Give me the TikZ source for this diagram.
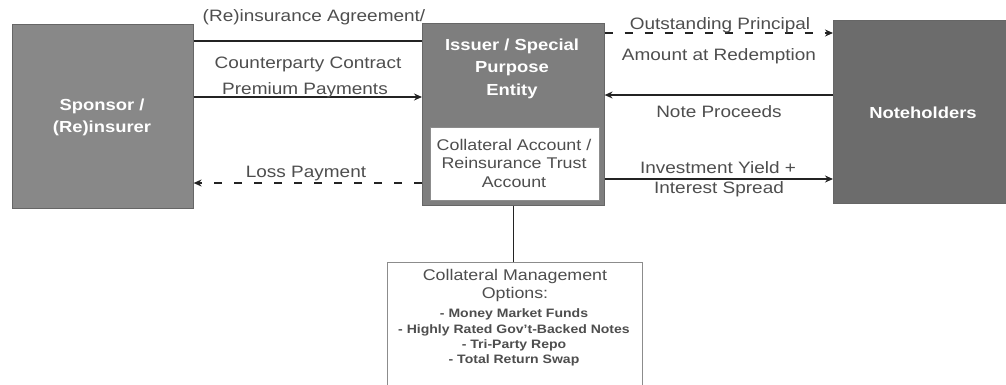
\documentclass[tikz,border=0pt]{standalone}
\usepackage{fontspec}
\setmainfont{Liberation Sans}[FakeStretch=1.15]
\usetikzlibrary{arrows.meta}

\definecolor{sponsorgray}{RGB}{136,136,136}
\definecolor{issuergray}{RGB}{126,126,126}
\definecolor{holdergray}{RGB}{108,108,108}
\definecolor{inkgray}{RGB}{78,78,78}
\definecolor{linegray}{RGB}{35,35,35}

\begin{document}
\begin{tikzpicture}[x=1pt,y=-1pt,
  party/.style={draw=black!60, line width=0.6pt, inner sep=0pt, anchor=north west},
  whitebox/.style={draw=black!45, line width=0.8pt, fill=white, inner sep=0pt, anchor=north west},
  partytext/.style={text=white, font=\fontsize{16}{19}\selectfont\bfseries, inner sep=0pt, anchor=base},
  lbl/.style={text=inkgray, font=\fontsize{16.5}{19}\selectfont, inner sep=0pt, anchor=base},
  accounttext/.style={text=inkgray, font=\fontsize{15.5}{18}\selectfont, inner sep=0pt, anchor=base},
  optiontitle/.style={text=inkgray, font=\fontsize{15.5}{18}\selectfont, inner sep=0pt, anchor=base},
  optionitem/.style={text=inkgray, font=\fontsize{12.2}{15}\selectfont\bfseries, inner sep=0pt, anchor=base},
  flow/.style={draw=linegray, line width=1.8pt},
  arr/.style={-{Stealth[length=8pt,width=7pt]}},
  dashflow/.style={dash pattern=on 8pt off 12pt},
]
\useasboundingbox (0,0) rectangle (1006,384);
\clip (0,0) rectangle (1006,384);

% parties
\node[party, fill=sponsorgray, minimum width=181pt, minimum height=184pt] (sponsor) at (12,24) {};
\node[partytext] (sponsorA) at (102,110) {Sponsor /};
\node[partytext] (sponsorB) at (102,132) {(Re)insurer};

\node[party, fill=issuergray, minimum width=182pt, minimum height=182pt] (issuer) at (422,23) {};
\node[partytext] (issuerA) at (512,50) {Issuer / Special};
\node[partytext] (issuerB) at (512,72.5) {Purpose};
\node[partytext] (issuerC) at (512,95) {Entity};

\node[whitebox, minimum width=169pt, minimum height=73pt] (account) at (430,127) {};
\node[accounttext] (accountA) at (514,150) {Collateral Account /};
\node[accounttext] (accountB) at (514,168) {Reinsurance Trust};
\node[accounttext] (accountC) at (514,187) {Account};

\node[party, fill=holdergray, minimum width=175pt, minimum height=183pt] (holders) at (833,20) {};
\node[partytext] (holdersA) at (923,118) {Noteholders};

% collateral management options
\node[whitebox, minimum width=255pt, minimum height=150pt] (options) at (387,262) {};
\node[optiontitle] (optionsA) at (515,280) {Collateral Management};
\node[optiontitle] (optionsB) at (515,298) {Options:};
\node[optionitem] (optionsC) at (514,317) {- Money Market Funds};
\node[optionitem] (optionsD) at (514,333) {- Highly Rated Gov't-Backed Notes};
\node[optionitem] (optionsE) at (514,348) {- Tri-Party Repo};
\node[optionitem] (optionsF) at (514,363) {- Total Return Swap};

\draw[linegray, line width=1.2pt] (issuer.south) -- (issuer.south |- options.north);

% flows between sponsor and issuer
\draw[flow] (sponsor.east |- 0,41) -- (issuer.west |- 0,41);
\node[lbl] (agreementA) at (314,21) {(Re)insurance Agreement/};
\node[lbl] (agreementB) at (308,68) {Counterparty Contract};

\draw[flow, arr] (sponsor.east |- 0,97) -- (issuer.west |- 0,97);
\node[lbl] (premium) at (305,94) {Premium Payments};

\draw[flow, dashflow, arr] (issuer.west |- 0,183) -- (sponsor.east |- 0,183);
\node[lbl] (loss) at (306,177) {Loss Payment};

% flows between issuer and noteholders
\draw[flow, dashflow, arr] (issuer.east |- 0,33) -- (holders.west |- 0,33);
\node[lbl] (principalA) at (720,29) {Outstanding Principal};
\node[lbl] (principalB) at (719,60) {Amount at Redemption};

\draw[flow, arr] (holders.west |- 0,95) -- (issuer.east |- 0,95);
\node[lbl] (proceeds) at (719,117) {Note Proceeds};

\draw[flow, arr] (issuer.east |- 0,179) -- (holders.west |- 0,179);
\node[lbl] (yieldA) at (718,173) {Investment Yield +};
\node[lbl] (yieldB) at (719,193) {Interest Spread};
\end{tikzpicture}
\end{document}
